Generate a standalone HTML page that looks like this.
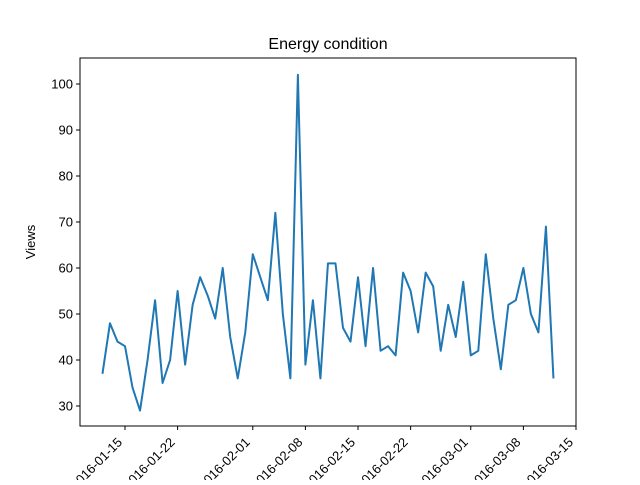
<!DOCTYPE html>
<html><head><meta charset="utf-8"><style>body{margin:0;background:#fff}svg{font-family:"Liberation Sans","DejaVu Sans",sans-serif}</style></head>
<body>
<svg id="c" width="640" height="480"></svg>
<script>
const startDate = "2016-01-12";
const values = [37,48,44,43,34,29,40,53,35,40,55,39,52,58,54,49,60,45,36,46,63,58,53,72,50,36,102,39,53,36,61,61,47,44,58,43,60,42,43,41,59,55,46,59,56,42,52,45,57,41,42,63,49,38,52,53,60,50,46,69,36];
const yTicks = [30,40,50,60,70,80,90,100];
const xTickLabels = ["2016-01-15","2016-01-22","2016-02-01","2016-02-08","2016-02-15","2016-02-22","2016-03-01","2016-03-08","2016-03-15"];
const NS="http://www.w3.org/2000/svg";
const svg=document.getElementById('c');
function mk(t,a,p){const e=document.createElementNS(NS,t);for(const k in a)e.setAttribute(k,a[k]);(p||svg).appendChild(e);return e;}
const L=80,R=576,T=58,B=426;
const day=86400000, t0=Date.parse(startDate+"T00:00:00Z");
const x0=Date.parse("2016-01-15T00:00:00Z"), x1=Date.parse("2016-03-15T00:00:00Z");
function x(t){return 125+(t-x0)/(x1-x0)*(576-125);}
function y(v){return 406-(v-30)*4.6;}
const title=mk('text',{x:328,y:49,'text-anchor':'middle','font-size':16});title.textContent="Energy condition";


const yl=mk('text',{x:35,y:242,'text-anchor':'middle','font-size':13,transform:'rotate(-90 35 242)'});yl.textContent="Views";


yTicks.forEach(v=>{
  mk('line',{x1:L-4,x2:L,y1:y(v),y2:y(v),stroke:'#000'});
  const t=mk('text',{x:L-7,y:y(v)+4.5,'text-anchor':'end','font-size':13});t.textContent=v;
  
  
});
xTickLabels.forEach(s=>{
  const px=x(Date.parse(s+"T00:00:00Z"));
  mk('line',{x1:px,x2:px,y1:B,y2:B+4,stroke:'#000'});
  const ax=px-2, ay=B+17;
  const t=mk('text',{x:ax,y:ay,'text-anchor':'end','font-size':13,transform:`rotate(-45 ${ax} ${ay})`});t.textContent=s;
  
  
});
const pts=values.map((v,i)=>x(t0+i*day).toFixed(2)+","+y(v).toFixed(2)).join(" ");
const line=mk('polyline',{points:pts,fill:'none',stroke:'#1f77b4','stroke-width':2,'stroke-linejoin':'round'});


const fr=mk('rect',{x:L,y:T,width:R-L,height:B-T,fill:'none',stroke:'#000','stroke-width':1});


</script>
</body></html>
